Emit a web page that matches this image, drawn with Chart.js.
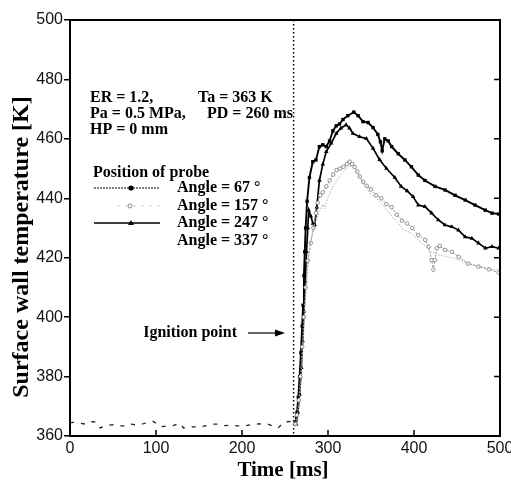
<!DOCTYPE html>
<html lang="en">
<head>
<meta charset="UTF-8">
<title>Surface wall temperature</title>
<style>
  body { margin: 0; background: #fff; }
  canvas { display: block; }
</style>
</head>
<body>
<canvas id="tempChart" width="511" height="485"></canvas>
<script src="https://cdn.jsdelivr.net/npm/chart.js@4"></script>
<script>
// axis ticks
const xTicks = [0, 100, 200, 300, 400, 500];      // time [ms]
const yTicks = [360, 380, 400, 420, 440, 460, 480, 500]; // temperature [K]
const ignitionTime = 260;

// before ignition every probe reads about the ambient (broken trace)
const baseTime = [0, 6, 12, 18, 25, 31, 35, 42, 50, 56, 64, 70, 78, 86, 93, 97, 105, 113, 120, 128, 132,
                  140, 152, 160, 166, 172, 180, 188, 195, 202, 214, 222, 230, 242, 249, 253, 258];
const baseTemp = [364.5, 364.6, 364.3, 364.0, 364.8, 364.7, 362.7, 363.5, 363.8, 363.4, 363.4, 364.0, 363.7, 364.2, 364.8, 364.9, 363.1, 363.4, 363.5, 364.3, 362.7,
                  363.1, 363.1, 363.6, 364.0, 364.0, 363.5, 363.6, 363.4, 363.3, 364.0, 364.1, 364.0, 362.7, 364.8, 364.8, 365.0];

// angle = 67 deg
const time67 = [262, 264, 265.5, 267, 268.5, 270, 271, 272, 273, 274, 275.7, 278.4, 282.3, 286, 290, 294, 298, 301.8, 305.7, 309.6,
                313.4, 317.4, 323, 330, 335, 340.7, 346.6, 352.4, 358, 361, 363, 366, 370, 374, 381.6, 389.4, 397, 405, 412.7, 424.4,
                436, 447.8, 459.5, 471, 482.8, 490.7, 498.5];
const temp67 = [364.5, 368, 373, 380, 388, 397, 404, 414, 422, 430, 439, 447, 452.3, 452.9, 457.4, 458, 457.4, 459.3, 462.7, 464.4,
                465, 466.5, 467.8, 469, 467.8, 465.8, 465.5, 463.8, 461.5, 459, 456, 460, 459.3, 457.4, 455, 452.9, 450.6, 447.8, 446, 444,
                442.8, 441, 439.4, 437.7, 436, 435, 434.7];

// angle = 157 deg
const time157 = [262, 264, 266, 268, 270, 272, 274, 276.5, 280, 283, 286, 288, 291, 294, 298, 302, 306, 310, 314, 318,
                 322, 325, 328, 331, 334, 337, 341, 345, 350, 356, 362, 368, 374, 380, 386, 392, 398, 405, 413, 417,
                 420.5, 422.5, 424.4, 426.5, 430, 436, 444, 452, 463, 475, 487, 498.5];
const temp157 = [364, 367, 372, 380, 390, 400, 410, 419, 425, 430, 435, 438.5, 441, 442, 444, 446, 448, 449.5, 450, 450.6,
                 451.5, 452.3, 451.5, 450.5, 449, 447.3, 445.5, 444.2, 443, 441, 440, 438, 437, 434.5, 432.5, 431.5, 430, 427.6, 426, 423.7,
                 419.2, 416, 419.2, 423.2, 424, 422.6, 422, 420.3, 418, 417, 416.1, 415];

// angle = 247 deg
const time247 = [263, 265, 267, 269, 270.5, 272, 273.5, 275, 276.5, 277.6, 280, 282.5, 284.5, 287, 290, 294, 298, 303.7, 309.6, 315,
                 321, 325, 329, 336.8, 344.6, 352.4, 360, 368, 377.7, 385, 392, 399, 405, 412.7, 420.5, 428.3, 436, 444, 451.7, 459.5,
                 467.3, 475, 483, 490.7, 498.5];
const temp247 = [364, 368, 374, 383, 392, 402, 412, 422, 430, 436, 434, 431.5, 431, 437, 446, 451.5, 455.7, 458.5, 461.8, 463.6,
                 464.7, 463.6, 461.8, 460.7, 460.1, 456.8, 453, 450, 447, 444, 442.5, 440.5, 437.7, 437.2, 435, 432.7, 431, 430.4, 429.3, 427,
                 426.5, 424.9, 423.2, 423.7, 423.2];

// angle = 337 deg
const time337 = [262, 264, 266, 268, 270, 272, 274, 276.5, 279, 282, 285, 288, 291, 294, 296, 298, 302, 306, 310, 315,
                 320, 325, 329, 333, 338, 343, 348, 354, 360, 366, 374, 381.6, 389, 397, 405, 412.7, 420, 428, 436, 444,
                 452, 463, 475, 487, 500];
const temp337 = [363.5, 366, 370, 377, 386, 396, 407, 416, 424, 428, 432, 434, 436, 438, 436.5, 439, 441.5, 444, 446, 448,
                 449.5, 450.5, 451, 449, 446.5, 444, 442, 440.5, 439, 437, 434, 431.6, 429.3, 428.2, 426, 424, 422, 421, 420.5, 420,
                 419.2, 418.2, 417.2, 416.3, 415.8];

function pts(ts, vs) {
  return ts.map((t, i) => ({ x: t, y: vs[i] }));
}

const serif = '"Liberation Serif", "Times New Roman", serif';
const sans = '"Liberation Sans", Arial, sans-serif';

// frame, inner ticks, ignition marker and all the annotation text
const decor = {
  id: 'decor',
  beforeDatasetsDraw(chart) {
    const { ctx, chartArea: a, scales: { x } } = chart;
    const xi = x.getPixelForValue(ignitionTime);
    ctx.save();
    ctx.strokeStyle = '#000';
    ctx.lineWidth = 1.5;
    ctx.setLineDash([1.5, 2.5]);
    ctx.beginPath();
    ctx.moveTo(xi, a.top);
    ctx.lineTo(xi, a.bottom);
    ctx.stroke();
    ctx.restore();
  },
  afterDraw(chart) {
    const { ctx, chartArea: a, scales: { x, y } } = chart;
    ctx.save();
    ctx.strokeStyle = '#000';
    ctx.fillStyle = '#000';

    // box
    ctx.lineWidth = 2;
    ctx.strokeRect(a.left, a.top, a.right - a.left, a.bottom - a.top);

    // ticks pointing inwards on bottom and right
    ctx.lineWidth = 1.5;
    ctx.beginPath();
    xTicks.slice(1, -1).forEach(v => {
      const px = x.getPixelForValue(v);
      ctx.moveTo(px, a.bottom);
      ctx.lineTo(px, a.bottom - 6);
    });
    yTicks.slice(1, -1).forEach(v => {
      const py = y.getPixelForValue(v);
      ctx.moveTo(a.right, py);
      ctx.lineTo(a.right - 6, py);
    });
    ctx.stroke();

    // axis titles
    ctx.font = 'bold 21px ' + serif;
    ctx.textAlign = 'center';
    ctx.textBaseline = 'alphabetic';
    ctx.fillText('Time [ms]', 283, 476);
    ctx.save();
    ctx.translate(28, 247);
    ctx.rotate(-Math.PI / 2);
    ctx.font = 'bold 24px ' + serif;
    ctx.fillText('Surface wall temperature [K]', 0, 0);
    ctx.restore();

    // run conditions
    ctx.font = 'bold 16px ' + serif;
    ctx.textAlign = 'left';
    ctx.textBaseline = 'middle';
    ctx.fillText('ER = 1.2,', 90, 98);
    ctx.fillText('Ta = 363 K', 198, 98);
    ctx.fillText('Pa = 0.5 MPa,', 90, 114);
    ctx.fillText('PD = 260 ms', 207, 114);
    ctx.fillText('HP = 0 mm', 90, 130);

    // legend
    ctx.fillText('Position of probe', 93, 173);
    const rows = [
      { text: 'Angle = 67 °', y: 188 },
      { text: 'Angle = 157 °', y: 206 },
      { text: 'Angle = 247 °', y: 223 },
      { text: 'Angle = 337 °', y: 241 }
    ];
    rows.forEach(r => ctx.fillText(r.text, 177, r.y));

    ctx.lineWidth = 1;
    ctx.setLineDash([2, 1]);
    ctx.beginPath();
    ctx.moveTo(94, 188); ctx.lineTo(160, 188);
    ctx.stroke();
    ctx.setLineDash([]);
    ctx.beginPath();
    ctx.arc(131, 188, 2.6, 0, Math.PI * 2);
    ctx.fill();

    ctx.strokeStyle = '#888';
    ctx.setLineDash([1, 7]);
    ctx.beginPath();
    ctx.moveTo(118, 206); ctx.lineTo(162, 206);
    ctx.stroke();
    ctx.setLineDash([]);
    ctx.beginPath();
    ctx.arc(130, 206, 2, 0, Math.PI * 2);
    ctx.stroke();

    ctx.strokeStyle = '#000';
    ctx.lineWidth = 1.3;
    ctx.beginPath();
    ctx.moveTo(94, 223); ctx.lineTo(160, 223);
    ctx.stroke();
    ctx.beginPath();
    ctx.moveTo(131, 220); ctx.lineTo(134, 225); ctx.lineTo(128, 225);
    ctx.closePath();
    ctx.fill();

    // ignition point
    ctx.textAlign = 'right';
    ctx.fillText('Ignition point', 237, 333);
    ctx.lineWidth = 1.2;
    ctx.beginPath();
    ctx.moveTo(248, 333); ctx.lineTo(276, 333);
    ctx.stroke();
    ctx.beginPath();
    ctx.moveTo(285, 333); ctx.lineTo(275, 329.5); ctx.lineTo(275, 336.5);
    ctx.closePath();
    ctx.fill();

    ctx.restore();
  }
};

new Chart(document.getElementById('tempChart'), {
  type: 'scatter',
  data: {
    datasets: [
      {
        label: 'before ignition',
        data: pts(baseTime, baseTemp),
        showLine: true,
        borderColor: '#222',
        borderWidth: 1.3,
        borderDash: [4, 7],
        pointRadius: 0
      },
      {
        label: 'Angle = 337',
        data: pts(time337, temp337),
        showLine: true,
        borderColor: '#b0b0b0',
        borderWidth: 1,
        borderDash: [1.5, 1.5],
        pointRadius: 0
      },
      {
        label: 'Angle = 157',
        data: pts(time157, temp157),
        showLine: true,
        borderColor: '#8c8c8c',
        borderWidth: 1,
        borderDash: [2, 1.5],
        pointRadius: 1.8,
        pointBorderWidth: 0.8,
        pointBorderColor: '#777',
        pointBackgroundColor: '#fff'
      },
      {
        label: 'Angle = 247',
        data: pts(time247, temp247),
        showLine: true,
        borderColor: '#000',
        borderWidth: 1.7,
        pointStyle: 'triangle',
        pointRadius: 2.6,
        pointBorderWidth: 0,
        pointBackgroundColor: '#000'
      },
      {
        label: 'Angle = 67',
        data: pts(time67, temp67),
        showLine: true,
        borderColor: '#000',
        borderWidth: 1.9,
        pointStyle: 'rect',
        pointRadius: 2.4,
        pointBorderWidth: 0,
        pointBackgroundColor: '#000'
      }
    ]
  },
  options: {
    responsive: false,
    animation: false,
    layout: { padding: { left: 0, right: 11, top: 20, bottom: 0 } },
    plugins: {
      legend: { display: false },
      tooltip: { enabled: false }
    },
    scales: {
      x: {
        type: 'linear',
        min: 0,
        max: 500,
        afterBuildTicks: s => { s.ticks = xTicks.map(v => ({ value: v })); },
        afterFit: s => { s.height = 49; s.paddingLeft = 0; s.paddingRight = 0; },
        grid: { display: false, drawTicks: false },
        border: { display: false },
        ticks: { padding: 3, color: '#111', font: { family: sans, size: 16 }, maxRotation: 0 }
      },
      y: {
        min: 360,
        max: 500,
        afterBuildTicks: s => { s.ticks = yTicks.map(v => ({ value: v })); },
        afterFit: s => { s.width = 70; },
        grid: { drawOnChartArea: false, drawTicks: true, tickLength: 6, color: '#000', lineWidth: 1.5 },
        border: { display: false },
        ticks: { padding: 1, color: '#111', font: { family: sans, size: 16 } }
      }
    }
  },
  plugins: [decor]
});
</script>
</body>
</html>
